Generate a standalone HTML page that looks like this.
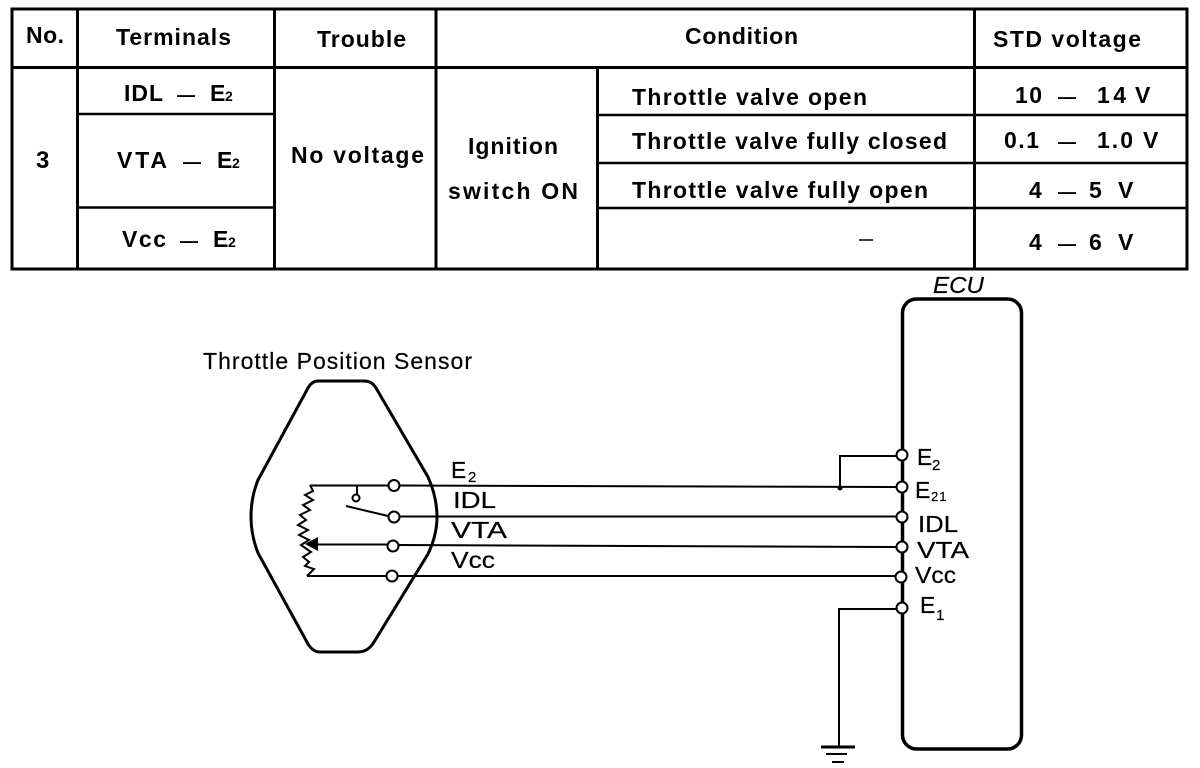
<!DOCTYPE html>
<html><head><meta charset="utf-8"><style>
html,body{margin:0;padding:0;background:#fff}
svg{display:block}
text{font-family:"Liberation Sans",sans-serif;fill:#000}
.t{font-size:23px;font-weight:bold}
.m{font-size:18px;font-weight:bold}
.u{font-size:14px;font-weight:bold}
.d{font-size:23px;stroke:#000;stroke-width:.2px}
.s{font-size:15px;stroke:#000;stroke-width:.2px}
</style></head><body>
<svg width="1200" height="768" viewBox="0 0 1200 768" xmlns="http://www.w3.org/2000/svg">
<rect width="1200" height="768" fill="#fff"/>
<g fill="none" stroke="#000" stroke-width="3">
<rect x="12" y="9" width="1175" height="260"/>
<path d="M12 67.500H1187M77.500 9V269M274.500 9V269M436 9V269M597.500 67V269M974.500 9V269"/>
<path d="M77 114H274M77 207.500H274M597 115H1187M597 163H1187M597 208H1187" stroke-width="2.500"/>
</g>
<path d="M859 240H873" stroke="#000" stroke-width="1.500"/>
<g class="t">
<text x="26" y="43" textLength="38">No.</text>
<text x="116" y="45" textLength="115">Terminals</text>
<text x="317" y="47" textLength="89">Trouble</text>
<text x="685" y="44" textLength="113">Condition</text>
<text x="993" y="47" textLength="148">STD voltage</text>
<text x="124" y="101" textLength="39">IDL</text>
<text x="210" y="101">E</text><text x="225" y="101" class="u">2</text>
<text x="117" y="168" textLength="50">VTA</text>
<text x="217" y="168">E</text><text x="232" y="168" class="u">2</text>
<text x="122" y="247" textLength="44">Vcc</text>
<text x="213" y="247">E</text><text x="228" y="247" class="u">2</text>
<text x="36" y="168" style="font-size:24px">3</text>
<text x="291" y="163" textLength="133">No voltage</text>
<text x="468" y="154" textLength="90">Ignition</text>
<text x="448" y="199" textLength="130">switch ON</text>
<text x="632" y="105" textLength="235">Throttle valve open</text>
<text x="632" y="149" textLength="315">Throttle valve fully closed</text>
<text x="632" y="198" textLength="296">Throttle valve fully open</text>
<text x="1015" y="103" textLength="27">10</text>
<text x="1097" y="103" textLength="29">14</text>
<text x="1135" y="103">V</text>
<text x="1004" y="148" textLength="35">0.1</text>
<text x="1097" y="148" textLength="36">1.0</text>
<text x="1143" y="148">V</text>
<text x="1029" y="198">4</text><text x="1089" y="198">5</text><text x="1118" y="198">V</text>
<text x="1029" y="250">4</text><text x="1089" y="250">6</text><text x="1118" y="250">V</text>
</g>
<g class="m">
<text x="177" y="101">—</text>
<text x="183" y="168">—</text>
<text x="180" y="247">—</text>
<text x="1058" y="103">—</text>
<text x="1058" y="148">—</text>
<text x="1058" y="198">—</text>
<text x="1058" y="250">—</text>
</g>
<g fill="none" stroke="#000">
<rect x="902.500" y="299" width="119" height="450" rx="14" stroke-width="3.500"/>
<path d="M318 381H364Q372 381 376 388L428 477Q437 497 437 517Q437 535 428 554L374 642Q368 652 358 652H320Q313 652 308 644L258 553Q251 535 251 517Q251 497 258 480L308 388Q312 381 318 381Z" stroke-width="3"/>
<g stroke-width="2">
<path d="M310 485.500H388M400 485.500L896 487M840 487V456H896"/>
<path d="M400 516.500H896M388 516L346 506"/>
<path d="M312 544.500H387M399 545L896 547"/>
<path d="M307 576H386M398 576H896"/>
<path d="M357 486V494"/>
<path d="M310 485L313 491L305 495L313 500L303 505L310 510L300 515L306 520L298 525L308 530L299 535L309 540L301 545L311 552L303 557L309 562L305 566L314 569L307 576"/>
<path d="M896 609H839V746"/>
<path d="M821 747H855" stroke-width="3"/>
<path d="M826 754H847M832 762H844"/>
</g>
</g>
<path d="M305 544L318 537V551Z" fill="#000"/>
<circle cx="840" cy="488" r="2.500" fill="#000"/>
<g fill="#fff" stroke="#000" stroke-width="2">
<circle cx="356" cy="498" r="3.500"/>
<circle cx="394" cy="485.500" r="5.500"/>
<circle cx="394" cy="517" r="5.500"/>
<circle cx="393" cy="546" r="5.500"/>
<circle cx="392" cy="576" r="5.500"/>
<circle cx="902" cy="455" r="5.500"/>
<circle cx="902" cy="487" r="5.500"/>
<circle cx="902" cy="517" r="5.500"/>
<circle cx="902" cy="547" r="5.500"/>
<circle cx="901" cy="577" r="5.500"/>
<circle cx="902" cy="608" r="5.500"/>
</g>
<g class="d">
<text x="933" y="293" font-style="italic" textLength="51" lengthAdjust="spacingAndGlyphs">ECU</text>
<text x="203" y="369" textLength="269">Throttle Position Sensor</text>
<text x="451" y="478">E</text><text x="468" y="482" class="s">2</text>
<text x="453" y="508" textLength="43" lengthAdjust="spacingAndGlyphs">IDL</text>
<text x="451" y="538" textLength="56" lengthAdjust="spacingAndGlyphs">VTA</text>
<text x="451" y="568" textLength="44" lengthAdjust="spacingAndGlyphs">Vcc</text>
<text x="917" y="465">E</text><text x="932" y="470" class="s">2</text>
<text x="915" y="498">E</text><text x="931" y="501" class="s" style="font-size:13px;letter-spacing:1px">21</text>
<text x="918" y="532" textLength="40" lengthAdjust="spacingAndGlyphs">IDL</text>
<text x="917" y="558" textLength="52" lengthAdjust="spacingAndGlyphs">VTA</text>
<text x="915" y="583" textLength="41" lengthAdjust="spacingAndGlyphs">Vcc</text>
<text x="920" y="613">E</text><text x="936" y="620" class="s">1</text>
</g>
</svg>
</body></html>
